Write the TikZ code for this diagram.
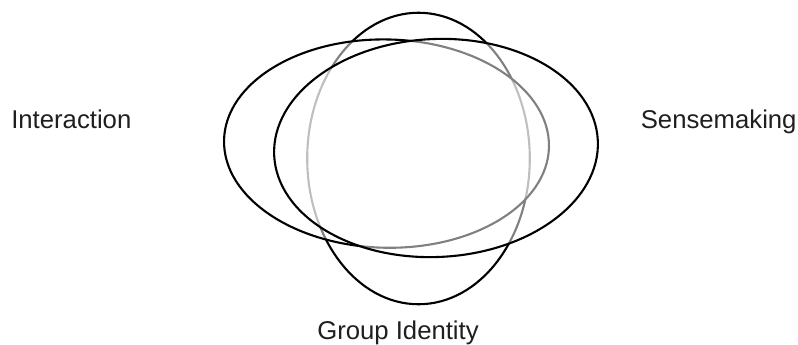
\documentclass[tikz,border=0pt]{standalone}
\usepackage{fontspec}
\setmainfont{Liberation Sans}
\usetikzlibrary{shapes.geometric}
\begin{document}
\begin{tikzpicture}[x=1pt,y=-1pt,
  ring/.style={draw=black, line width=2.1pt, ellipse, inner sep=0pt, outer sep=0pt},
  veil/.style={fill=white, fill opacity=0.5},
  lbl/.style={inner sep=0pt, anchor=base, text=black!88, font=\fontsize{25.7pt}{30pt}\selectfont}]
\useasboundingbox (0,0) rectangle (798,345);
\node (group) [ring, minimum width=222.6pt, minimum height=291.5pt] at (418.5,158.5) {};
\node (inter) [ring, veil, minimum width=325pt, minimum height=208.3pt, rotate=-1.2] at (386.5,143.6) {};
\node (sense) [ring, veil, minimum width=324pt, minimum height=218pt, rotate=2.6] at (436,148) {};
\node (tinter) [lbl] at (71.3,128.3) {Interaction};
\node (tsense) [lbl] at (718.7,128.3) {Sensemaking};
\node (tgroup) [lbl] at (398,339.3) {Group Identity};
\end{tikzpicture}
\end{document}
